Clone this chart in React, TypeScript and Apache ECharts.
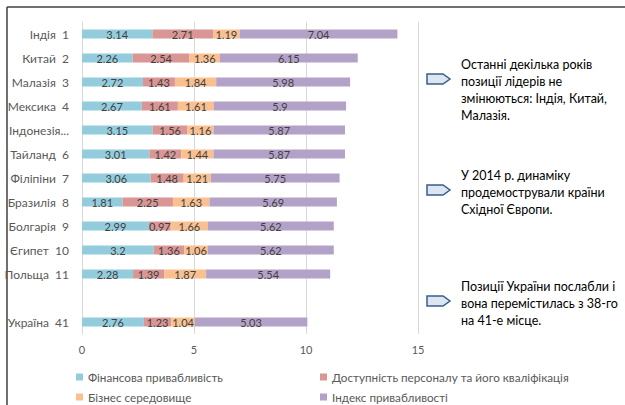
import React, { useEffect, useRef } from "react";
import * as echarts from "echarts";

const SP = "\u00A0\u00A0";
const categories = [
  `Індія${SP}1`, `Китай${SP}2`, `Малазія${SP}3`, `Мексика${SP}4`, `Індонезія${SP}5`, `Тайланд${SP}6`,
  `Філіпіни${SP}7`, `Бразилія${SP}8`, `Болгарія${SP}9`, `Єгипет${SP}10`, `Польща${SP}11`, "", `Україна${SP}41`,
];
const seriesNames = [
  "Фінансова привабливість",
  "Доступність персоналу та його кваліфікація",
  "Бізнес середовище",
  "Індекс привабливості",
];
const finance = [3.14, 2.26, 2.72, 2.67, 3.15, 3.01, 3.06, 1.81, 2.99, 3.2, 2.28, null, 2.76];
const staff = [2.71, 2.54, 1.43, 1.61, 1.56, 1.42, 1.48, 2.25, 0.97, 1.36, 1.39, null, 1.23];
const business = [1.19, 1.36, 1.84, 1.61, 1.16, 1.44, 1.21, 1.63, 1.66, 1.06, 1.87, null, 1.04];
const indexVals = [7.04, 6.15, 5.98, 5.9, 5.87, 5.87, 5.75, 5.69, 5.62, 5.62, 5.54, null, 5.03];
const colors = ["#93CDDD", "#D99694", "#FAC090", "#B3A2C7"];
const notes = [
  "Останні декілька років\nпозиції лідерів не\nзмінюються: Індія, Китай,\nМалазія.",
  "У 2014 р. динаміку\nпродемострували країни\nСхідної Європи.",
  "Позиції України послабли і\nвона перемістилась з 38-го\nна 41-е місце.",
];

const FONT = "Lato, 'Open Sans', sans-serif";
const MAX_LABEL_CHARS = 11;

export default function App() {
  const ref = useRef<HTMLDivElement>(null);
  useEffect(() => {
    if (!ref.current) return;
    const chart = echarts.init(ref.current, null, { renderer: "svg" });
    const values = [finance, staff, business, indexVals];
    const noteTops = [56, 167, 278];
    const arrowMid = [79, 190, 301];
    const graphics: any[] = [
      { type: "line", shape: { x1: 7, y1: 7, x2: 625, y2: 7 }, style: { stroke: "#404040", lineWidth: 1.5 } },
      { type: "line", shape: { x1: 7, y1: 7, x2: 7, y2: 405 }, style: { stroke: "#404040", lineWidth: 1.5 } },
    ];
    notes.forEach((t, i) => {
      const m = arrowMid[i];
      graphics.push({
        type: "polygon",
        shape: { points: [[427, m - 5], [443, m - 5], [450, m], [443, m + 5], [427, m + 5]] },
        style: { fill: "#DCE6F2", stroke: "#385D8A", lineWidth: 1.5 },
      });
      graphics.push({
        type: "text",
        x: 461,
        y: noteTops[i],
        style: { text: t, font: `12.5px ${FONT}`, lineHeight: 17, fill: "#000" },
      });
    });
    const legendPos = [
      { left: 76, top: 371 },
      { left: 320, top: 371 },
      { left: 76, top: 391 },
      { left: 320, top: 391 },
    ];
    chart.setOption({
      animation: false,
      color: colors,
      textStyle: { fontFamily: FONT },
      grid: { left: 82, right: 207, top: 22, bottom: 71, containLabel: false },
      legend: seriesNames.map((n, i) => ({
        data: [n],
        left: legendPos[i].left,
        top: legendPos[i].top,
        padding: 0,
        icon: "rect",
        itemWidth: 7,
        itemHeight: 7,
        textStyle: { color: "#595959", fontSize: 11.7, fontFamily: FONT },
      })),
      xAxis: {
        type: "value",
        min: 0,
        max: 15,
        interval: 5,
        axisLabel: { color: "#595959", fontSize: 11, margin: 10 },
        axisLine: { show: false },
        splitLine: { lineStyle: { color: "#D9D9D9" } },
      },
      yAxis: {
        type: "category",
        data: categories,
        inverse: true,
        axisTick: { show: false },
        axisLine: { lineStyle: { color: "#D9D9D9" } },
        axisLabel: {
          color: "#595959",
          fontSize: 12,
          margin: 13,
          formatter: (v: string) =>
            v.length > MAX_LABEL_CHARS ? v.split("\u00A0")[0] + "..." : v,
        },
      },
      series: seriesNames.map((n, i) => ({
        name: n,
        type: "bar",
        stack: "total",
        barWidth: 9,
        data: values[i],
        label: {
          show: true,
          position: "inside",
          color: "#404040",
          fontSize: 11,
          fontFamily: FONT,
        },
      })),
      graphic: graphics,
    });
    return () => chart.dispose();
  }, []);
  return <div ref={ref} style={{ width: 625, height: 405, position: "absolute", left: 0, top: 0, background: "#fff" }} />;
}
